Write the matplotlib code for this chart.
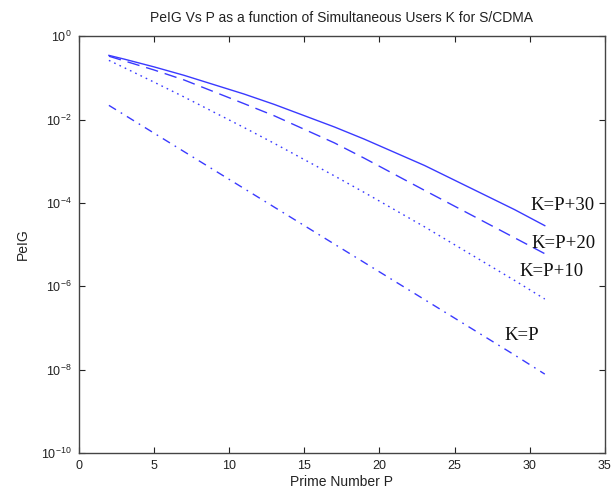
import matplotlib
matplotlib.use("Agg")
import matplotlib.pyplot as plt
import numpy as np
from matplotlib.ticker import FixedLocator, FuncFormatter

plt.rcParams['font.family'] = ['Liberation Sans', 'DejaVu Sans']
plt.rcParams['mathtext.default'] = 'regular'

# Prime numbers P and log10 of the error probability for each user load
P = [2, 3, 5, 7, 11, 13, 17, 19, 23, 29, 31]
log_pe_k_p30 = [-0.46, -0.548, -0.736, -0.939, -1.389, -1.637, -2.178, -2.472, -3.103, -4.164, -4.547]
log_pe_k_p20 = [-0.48, -0.59, -0.81, -1.05, -1.62, -1.91, -2.56, -2.93, -3.70, -4.84, -5.22]
log_pe_k_p10 = [-0.58, -0.752, -1.102, -1.458, -2.194, -2.572, -3.352, -3.752, -4.575, -5.864, -6.308]
log_pe_k_p = [-1.66, -1.882, -2.326, -2.77, -3.658, -4.102, -4.99, -5.434, -6.322, -7.654, -8.11]

labels = ["K=P+30", "K=P+20", "K=P+10", "K=P"]
label_pos = [(30.05, -4.06), (30.1, -4.97), (29.3, -5.64), (28.3, -7.18)]

fig = plt.figure(figsize=(6.16, 4.96), dpi=100)
ax = fig.add_axes([0.128, 0.087, 0.854, 0.840])

blue = '#3a3aff'
series = [log_pe_k_p30, log_pe_k_p20, log_pe_k_p10, log_pe_k_p]
styles = ['-', (0, (9, 5)), (0, (1.2, 3)), (0, (6, 4, 1.2, 4))]
for vals, ls in zip(series, styles):
    ax.semilogy(P, 10.0 ** np.array(vals), color=blue, linestyle=ls, linewidth=1.0)

for text, (x, ly) in zip(labels, label_pos):
    ax.text(x, 10.0 ** ly, text, family=['Liberation Serif'], fontsize=13.5,
            ha='left', va='center', color='#111111')

ax.set_xlim(0, 35)
ax.set_ylim(1e-10, 1)
ax.set_xticks(range(0, 36, 5))
ax.yaxis.set_major_locator(FixedLocator([1e-10, 1e-8, 1e-6, 1e-4, 1e-2, 1]))
ax.yaxis.set_minor_locator(FixedLocator([]))
ax.yaxis.set_major_formatter(FuncFormatter(
    lambda v, pos: r'$10^{%d}$' % int(round(np.log10(v)))))

ax.tick_params(direction='in', top=True, right=True, length=4, width=0.8,
               labelsize=9, colors='#222222', pad=5)
for sp in ax.spines.values():
    sp.set_color('#444444')
    sp.set_linewidth(1.0)

ax.set_title("PeIG Vs P as a function of Simultaneous Users K for S/CDMA",
             fontsize=10, pad=10, color='#222222')
ax.set_xlabel("Prime Number P", fontsize=10, labelpad=2, color='#222222')
ax.set_ylabel("PeIG", fontsize=10, labelpad=8, color='#222222')

fig.savefig("out.png", dpi=100)
